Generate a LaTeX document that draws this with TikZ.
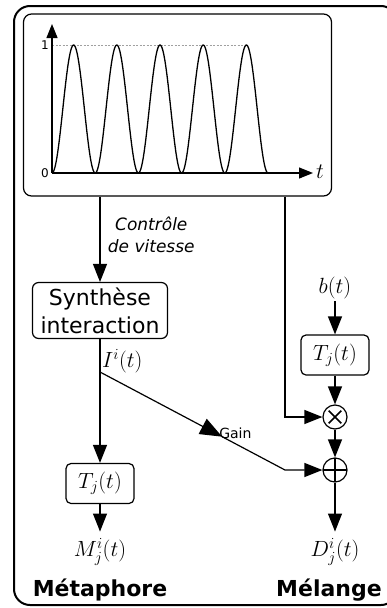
\RequirePackage{fix-cm}
\documentclass[tikz,border=0pt]{standalone}
\usepackage{fontspec}
\setsansfont{DejaVu Sans}
\usetikzlibrary{arrows.meta,positioning,calc}
\definecolor{ink}{RGB}{0,0,0}
\definecolor{guide}{RGB}{160,160,160}
\tikzset{
  >={Triangle[length=18pt,width=14pt]},
  block/.style={draw=ink,rounded corners=6pt,line width=1.2pt,align=center,
    inner xsep=8pt,inner ysep=5pt,font=\sffamily\fontsize{22}{28}\selectfont},
  tf/.style={draw=ink,rounded corners=5pt,line width=1.2pt,minimum width=68pt,
    minimum height=40pt,inner sep=0pt,font=\fontsize{22}{26}\selectfont},
  sig/.style={font=\fontsize{22}{26}\selectfont,inner sep=2pt},
  outlab/.style={sig,inner ysep=7pt},
  flow/.style={->,line width=1.2pt,draw=ink},
  op/.style={circle,draw=ink,line width=1.2pt,minimum size=24pt,inner sep=0pt},
  times/.style={op,path picture={
    \draw[line width=1.6pt] ([shift={(45:9pt)}]path picture bounding box.center) -- ([shift={(225:9pt)}]path picture bounding box.center);
    \draw[line width=1.6pt] ([shift={(135:9pt)}]path picture bounding box.center) -- ([shift={(315:9pt)}]path picture bounding box.center);
  }},
  plus/.style={op,path picture={
    \draw[line width=1.6pt] (path picture bounding box.north) -- (path picture bounding box.south);
    \draw[line width=1.6pt] (path picture bounding box.west) -- (path picture bounding box.east);
  }},
  title/.style={font=\sffamily\bfseries\fontsize{22}{26}\selectfont,inner sep=0pt},
  tag/.style={font=\sffamily\fontsize{14}{16}\selectfont,inner sep=1pt},
}

\begin{document}
\begin{tikzpicture}[x=1pt,y=-1pt]
  \clip (0,0) rectangle (387,608);
  % outer frame
  \draw[line width=2pt,rounded corners=16pt] (14,6) rectangle (397,605);

  % speed profile
  \node[draw=ink,line width=1.2pt,rounded corners=8pt,minimum width=308pt,
    minimum height=182pt,inner sep=0pt] (plot) at (177.5,105) {};
  \draw[guide,line width=0.6pt,dash pattern=on 2pt off 1.5pt] (52,45) -- (248,45);
  \draw[line width=1.3pt] plot[domain=0:216,samples=300,smooth]
    ({52+\x},{173-64*(1-cos(\x*8.3333))});
  \draw[line width=1.2pt,-{Triangle[length=14pt,width=11pt]}] (52,173) -- (52,24);
  \draw[line width=1.2pt,-{Triangle[length=14pt,width=11pt]}] (52,173) -- (313,173);
  \node[font=\sffamily\fontsize{12}{14}\selectfont,inner sep=0pt] (one) at (45,45) {1};
  \node[font=\sffamily\fontsize{12}{14}\selectfont,inner sep=0pt] (zero) at (45,173) {0};
  \node[sig] (tlab) at (320,172) {$t$};

  % blocks
  \node[block] (synth) at (100,310.5) {Synth\`ese\\interaction};
  \node[tf] (tleft) at (100,483.5) {$T_j(t)$};
  \node[sig] (bsrc) at (335,288) {$b(t)$};
  \node[tf] (tright) at (335,355) {$T_j(t)$};
  \node[times] (mult) at (335,417) {};
  \node[plus] (add) at (335,470) {};
  \node[outlab] (mout) at (100,552) {$M^i_j(t)$};
  \node[outlab] (dout) at (335,552) {$D^i_j(t)$};
  \node[title] (meta) at (100,590) {M\'etaphore};
  \node[title] (mix) at (329,590) {M\'elange};

  \coordinate (branch) at (100,372);
  \coordinate (knee) at (285,470);
  \coordinate (corner) at (285,417);
  \coordinate (gain) at ($(branch)!0.66!(knee)$);

  % connectors
  \draw[flow] (synth.north |- plot.south) -- (synth.north)
    node[pos=0.45,right=4pt,font=\sffamily\itshape\fontsize{17}{22}\selectfont,align=center] (ctl) {Contr\^ole\\de vitesse};
  \draw[flow] (synth) -- (tleft);
  \node[sig,anchor=south west,inner sep=0pt] (ilab) at ([xshift=2pt,yshift=-1pt]branch) {$I^i(t)$};
  \draw[flow,-{Triangle[length=22pt,width=17pt]}] (branch) -- (gain);
  \node[tag,anchor=south west] (gtag) at ([xshift=-4pt,yshift=-3pt]gain) {Gain};
  \draw[flow] (gain) -- (knee) -- (add);
  \draw[flow] (corner |- plot.south) -- (corner) -- (mult);
  \draw[flow] (bsrc) -- (tright);
  \draw[flow] (tright) -- (mult);
  \draw[flow] (mult) -- (add);
  \draw[flow] (add) -- (dout);
  \draw[flow] (tleft) -- (mout);
\end{tikzpicture}
\end{document}
